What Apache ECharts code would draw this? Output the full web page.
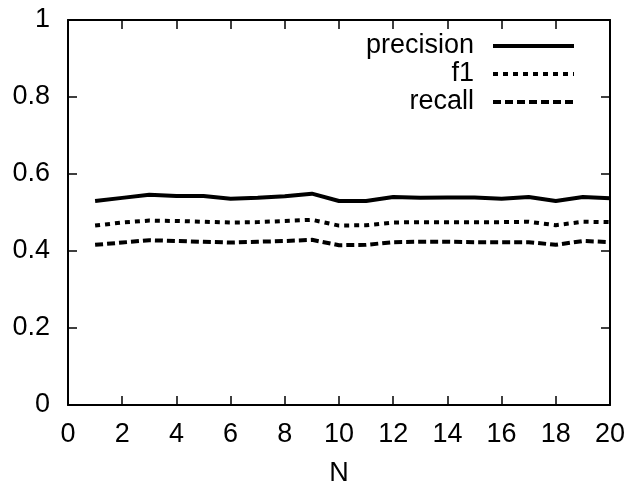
<!DOCTYPE html>
<html>
<head>
<meta charset="utf-8">
<script src="https://cdn.jsdelivr.net/npm/echarts@6/dist/echarts.min.js"></script>
<style>
  html, body { margin: 0; padding: 0; background: #fff; }
  #chart { width: 633px; height: 487px; }
</style>
</head>
<body>
<div id="chart"></div>
<script>
// N values on the horizontal axis
const nValues = [1, 2, 3, 4, 5, 6, 7, 8, 9, 10, 11, 12, 13, 14, 15, 16, 17, 18, 19, 20];

// Scores per N
const precision = [0.530, 0.538, 0.546, 0.543, 0.543, 0.536, 0.538, 0.542, 0.549, 0.530,
                   0.530, 0.540, 0.538, 0.539, 0.539, 0.536, 0.540, 0.530, 0.540, 0.537];
const f1 = [0.466, 0.474, 0.479, 0.478, 0.476, 0.474, 0.475, 0.478, 0.481, 0.466,
            0.467, 0.474, 0.475, 0.475, 0.475, 0.475, 0.476, 0.467, 0.476, 0.475];
const recall = [0.416, 0.422, 0.428, 0.426, 0.424, 0.422, 0.424, 0.426, 0.429, 0.415,
                0.416, 0.423, 0.424, 0.424, 0.423, 0.423, 0.423, 0.416, 0.426, 0.423];

const FONT = 'Liberation Sans';
const FS = 27;

const pairs = arr => nValues.map((n, i) => [n, arr[i]]);

// fresh style objects for every axis; onZero off so each axis keeps its own side of the box
const axisLine = () => ({ show: true, onZero: false, lineStyle: { color: '#000', width: 2 } });
const axisTick = () => ({ show: true, inside: true, length: 9, lineStyle: { color: '#000', width: 1.5 } });
const noSplit = () => ({ show: false });

const chart = echarts.init(document.getElementById('chart'));
chart.setOption({
  animation: false,
  backgroundColor: '#fff',
  grid: { left: 68, right: 23, top: 20, bottom: 82, outerBoundsMode: 'none', containLabel: false },
  legend: {
    orient: 'vertical',
    align: 'right',
    right: 52,
    top: 27,
    itemWidth: 81,
    itemHeight: 14,
    itemGap: 0,
    itemStyle: { opacity: 0 },
    lineStyle: { width: 4 },
    textStyle: { fontFamily: FONT, fontSize: FS, lineHeight: 28, color: '#000', padding: [0, 14, 0, 0] },
    data: ['precision', 'f1', 'recall']
  },
  xAxis: [
    {
      type: 'value', min: 0, max: 20, interval: 2,
      name: 'N', nameLocation: 'middle', nameGap: 55,
      nameTextStyle: { fontFamily: FONT, fontSize: FS, color: '#000' },
      axisLine: axisLine(), axisTick: axisTick(), splitLine: noSplit(),
      axisLabel: { fontFamily: FONT, fontSize: FS, color: '#000', margin: 16 }
    },
    {
      type: 'value', position: 'top', min: 0, max: 20, interval: 2,
      axisLine: axisLine(), axisTick: axisTick(), splitLine: noSplit(),
      axisLabel: { show: false }
    }
  ],
  yAxis: [
    {
      type: 'value', min: 0, max: 1, interval: 0.2,
      axisLine: axisLine(), axisTick: axisTick(), splitLine: noSplit(),
      axisLabel: { fontFamily: FONT, fontSize: FS, color: '#000', margin: 18,
                   formatter: v => String(Math.round(v * 10) / 10) }
    },
    {
      type: 'value', position: 'right', min: 0, max: 1, interval: 0.2,
      axisLine: axisLine(), axisTick: axisTick(), splitLine: noSplit(),
      axisLabel: { show: false }
    }
  ],
  series: [
    {
      name: 'precision', type: 'line', data: pairs(precision), symbol: 'none',
      lineStyle: { color: '#000', width: 4, type: 'solid', cap: 'butt' },
      itemStyle: { color: '#000' }
    },
    {
      name: 'f1', type: 'line', data: pairs(f1), symbol: 'none',
      lineStyle: { color: '#000', width: 4, type: [5, 5], cap: 'butt' },
      itemStyle: { color: '#000' }
    },
    {
      name: 'recall', type: 'line', data: pairs(recall), symbol: 'none',
      lineStyle: { color: '#000', width: 4, type: [8, 4], cap: 'butt' },
      itemStyle: { color: '#000' }
    }
  ]
});
</script>
</body>
</html>
